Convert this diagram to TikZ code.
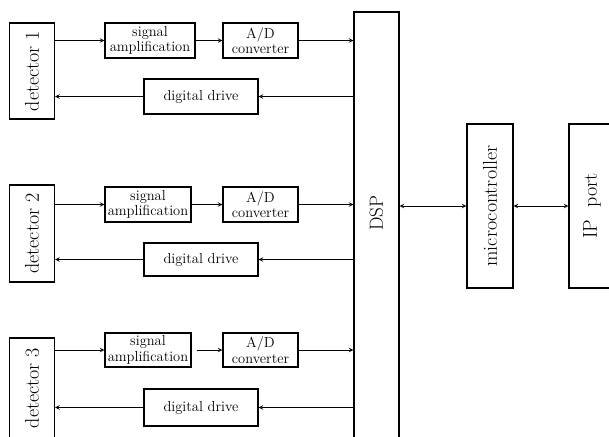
\documentclass[tikz,border=0pt]{standalone}
\begin{document}
\begin{tikzpicture}[x=1pt,y=-1pt,
  box/.style={draw, line width=1.3pt, inner sep=0pt, align=center, font=\fontsize{14.5}{15.5}\selectfont},
  tallbox/.style={draw, line width=1.3pt, inner sep=0pt, font=\fontsize{20}{21}\selectfont},
  link/.style={line width=1pt, -stealth},
  both/.style={line width=1pt, stealth-stealth}]
  \useasboundingbox (0,0) rectangle (609,436);
  \clip (0,0) rectangle (609,436);

  % detectors
  \node[tallbox, minimum width=45pt, minimum height=96pt] (det1) at (32,71) {\rotatebox{90}{detector 1}};
  \node[tallbox, minimum width=45pt, minimum height=97pt] (det2) at (32,233.5) {\rotatebox{90}{detector 2}};
  \node[tallbox, minimum width=45pt, minimum height=100pt] (det3) at (32,388) {\rotatebox{90}{detector 3}};

  % first row
  \node[box, minimum width=90pt, minimum height=35pt] (amp1) at (150,40.5) {signal\\amplification};
  \node[box, minimum width=75pt, minimum height=35pt] (ad1) at (260.5,40.5) {A/D\\converter};
  \node[box, minimum width=114pt, minimum height=35pt] (dd1) at (201,96.5) {digital drive};

  % second row
  \node[box, minimum width=86pt, minimum height=35pt] (amp2) at (148,204.5) {signal\\amplification};
  \node[box, minimum width=75pt, minimum height=35pt] (ad2) at (260.5,204.5) {A/D\\converter};
  \node[box, minimum width=114pt, minimum height=33pt] (dd2) at (201,259.5) {digital drive};

  % third row
  \node[box, minimum width=86pt, minimum height=34pt] (amp3) at (148,350) {signal\\amplification};
  \node[box, minimum width=75pt, minimum height=34pt] (ad3) at (260.5,350) {A/D\\converter};
  \node[box, minimum width=114pt, minimum height=37pt] (dd3) at (201,407.5) {digital drive};

  % right side
  \node[tallbox, minimum width=45pt, minimum height=440pt] (dsp) at (376.5,232) {};
  \node[font=\fontsize{19}{20}\selectfont] (dsplabel) at (376.5,213) {\rotatebox{90}{DSP}};
  \node[tallbox, minimum width=46pt, minimum height=164pt] (mc) at (490,206) {\rotatebox{90}{microcontroller}};
  \node[tallbox, minimum width=46pt, minimum height=164pt] (ip) at (592,206) {\rotatebox{90}{IP\ \ port}};

  % connectors
  \draw[link] (det1.east |- amp1.west) -- (amp1.west);
  \draw[link] (amp1.east) -- (ad1.west);
  \draw[link] (ad1.east) -- (ad1.east -| dsp.west);
  \draw[link] (dsp.west |- dd1.east) -- (dd1.east);
  \draw[link] (dd1.west) -- (dd1.west -| det1.east);

  \draw[link] (det2.east |- amp2.west) -- (amp2.west);
  \draw[link] (amp2.east) -- (ad2.west);
  \draw[link] (ad2.east) -- (ad2.east -| dsp.west);
  \draw[link] (dsp.west |- dd2.east) -- (dd2.east);
  \draw[link] (dd2.west) -- (dd2.west -| det2.east);

  \draw[link] (det3.east |- amp3.west) -- (amp3.west);
  \draw[link] ([xshift=5pt]amp3.east) -- (ad3.west);
  \draw[link] (ad3.east) -- (ad3.east -| dsp.west);
  \draw[link] (dsp.west |- dd3.east) -- (dd3.east);
  \draw[link] (dd3.west) -- (dd3.west -| det3.east);

  \draw[both] (dsp.east |- mc.west) -- (mc.west);
  \draw[both] (mc.east) -- (ip.west);
\end{tikzpicture}
\end{document}
